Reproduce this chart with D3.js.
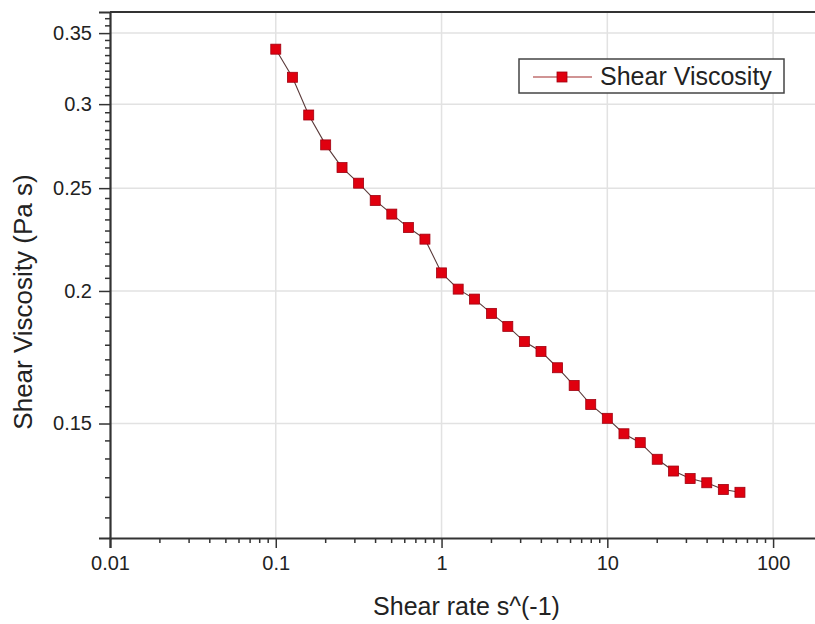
<!DOCTYPE html>
<html>
<head>
  <title>Shear Viscosity vs Shear rate</title>
  <script src="https://d3js.org/d3.v7.min.js"></script>
  <style>
    body { margin: 0; background: #fff; }
    text { font-family: "Liberation Sans", Arial, sans-serif; fill: #222; }
  </style>
</head>
<body>

<div id="chart"></div>

<script>
// Data
const shearRate = [0.1, 0.126, 0.158, 0.2, 0.251, 0.316, 0.398, 0.501, 0.631, 0.794,
  1, 1.26, 1.58, 2, 2.51, 3.16, 3.98, 5.01, 6.31, 7.94,
  10, 12.6, 15.8, 20, 25.1, 31.6, 39.8, 50.1, 63.1];
const viscosity = [0.338, 0.318, 0.293, 0.2746, 0.2614, 0.2527, 0.2434, 0.2363, 0.2295, 0.2238,
  0.208, 0.2008, 0.1965, 0.1905, 0.1852, 0.1792, 0.1754, 0.1693, 0.1629, 0.1563,
  0.1517, 0.1467, 0.1439, 0.1388, 0.1353, 0.1331, 0.1319, 0.13, 0.1292];
const xTicks = [0.01, 0.1, 1, 10, 100];
const xTickLabels = ["0.01", "0.1", "1", "10", "100"];
const yTicks = [0.15, 0.2, 0.25, 0.3, 0.35];
const yTickLabels = ["0.15", "0.2", "0.25", "0.3", "0.35"];
const seriesName = "Shear Viscosity";

const width = 815;
const height = 624;
const margin = { top: 12, left: 110 };
const plotRight = 823;   // frame runs past the right edge of the picture
const plotBottom = 538;

const svg = d3.select("#chart")
  .append("svg")
  .attr("width", width)
  .attr("height", height);

const x = d3.scaleLog()
  .domain([0.01, 200])
  .range([margin.left, plotRight]);

const y = d3.scaleLog()
  .domain([0.117, 0.3664])
  .range([plotBottom, margin.top]);

// minor ticks
const xMinor = [];
[0.01, 0.1, 1, 10, 100].forEach(d => {
  for (let k = 2; k <= 9; k++) if (d * k <= 200) xMinor.push(d * k);
});
const yMinor = d3.range(0, 60).map(i => 0.1 + i * 0.05 / 9)
  .filter(v => v > 0.117 && v < 0.3664 && !yTicks.some(t => Math.abs(t - v) < 1e-6));

// grid
svg.append("g")
  .selectAll("line")
  .data(xTicks.slice(1))
  .enter().append("line")
  .attr("x1", d => x(d)).attr("x2", d => x(d))
  .attr("y1", margin.top).attr("y2", plotBottom)
  .attr("stroke", "#e2e2e2").attr("stroke-width", 1.5);

svg.append("g")
  .selectAll("line")
  .data(yTicks)
  .enter().append("line")
  .attr("x1", margin.left).attr("x2", plotRight)
  .attr("y1", d => y(d)).attr("y2", d => y(d))
  .attr("stroke", "#e2e2e2").attr("stroke-width", 1.5);

// x axis
const xAxis = svg.append("g")
  .attr("transform", `translate(0,${plotBottom})`)
  .call(d3.axisBottom(x).tickValues(xTicks).tickSize(10).tickPadding(8)
    .tickFormat((d, i) => xTickLabels[i]));
xAxis.append("g").selectAll("line")
  .data(xMinor).enter().append("line")
  .attr("x1", d => x(d)).attr("x2", d => x(d))
  .attr("y1", 0).attr("y2", 5)
  .attr("stroke", "#333").attr("stroke-width", 1.5);

// y axis
const yAxis = svg.append("g")
  .attr("transform", `translate(${margin.left},0)`)
  .call(d3.axisLeft(y).tickValues(yTicks).tickSize(11).tickPadding(7)
    .tickFormat((d, i) => yTickLabels[i]));
yAxis.append("g").selectAll("line")
  .data(yMinor).enter().append("line")
  .attr("x1", 0).attr("x2", -5)
  .attr("y1", d => y(d)).attr("y2", d => y(d))
  .attr("stroke", "#333").attr("stroke-width", 1.5);

[xAxis, yAxis].forEach(a => {
  a.select(".domain").attr("stroke", "#333").attr("stroke-width", 2.2);
  a.selectAll(".tick line").attr("stroke", "#333").attr("stroke-width", 1.5);
  a.selectAll(".tick text").attr("font-size", 20).attr("fill", "#222");
});

// top frame
svg.append("line")
  .attr("x1", margin.left).attr("x2", plotRight)
  .attr("y1", margin.top).attr("y2", margin.top)
  .attr("stroke", "#333").attr("stroke-width", 2.2);

// series
const points = shearRate.map((d, i) => ({ x: d, y: viscosity[i] }));

svg.append("path")
  .datum(points)
  .attr("fill", "none")
  .attr("stroke", "#5a3a3a")
  .attr("stroke-width", 1.1)
  .attr("d", d3.line().x(d => x(d.x)).y(d => y(d.y)));

svg.append("g")
  .selectAll("rect")
  .data(points)
  .enter().append("rect")
  .attr("x", d => x(d.x) - 5)
  .attr("y", d => y(d.y) - 5)
  .attr("width", 10)
  .attr("height", 10)
  .attr("fill", "#e0000f")
  .attr("stroke", "#a00010")
  .attr("stroke-width", 0.8);

// axis titles
svg.append("text")
  .attr("x", (margin.left + plotRight) / 2)
  .attr("y", 615)
  .attr("text-anchor", "middle")
  .attr("font-size", 25)
  .text("Shear rate s^(-1)");

svg.append("text")
  .attr("transform", "translate(32,302) rotate(-90)")
  .attr("text-anchor", "middle")
  .attr("font-size", 26)
  .text("Shear Viscosity (Pa s)");

// legend
const legend = svg.append("g");
legend.append("rect")
  .attr("x", 519).attr("y", 59)
  .attr("width", 265).attr("height", 34)
  .attr("fill", "#fff")
  .attr("stroke", "#444").attr("stroke-width", 1.5);
legend.append("line")
  .attr("x1", 533).attr("x2", 592)
  .attr("y1", 77).attr("y2", 77)
  .attr("stroke", "#c07070").attr("stroke-width", 1.5);
legend.append("rect")
  .attr("x", 557).attr("y", 72)
  .attr("width", 10).attr("height", 10)
  .attr("fill", "#e0000f").attr("stroke", "#a00010").attr("stroke-width", 0.8);
legend.append("text")
  .attr("x", 600).attr("y", 85)
  .attr("font-size", 25)
  .text(seriesName);
</script>

</body>
</html>
